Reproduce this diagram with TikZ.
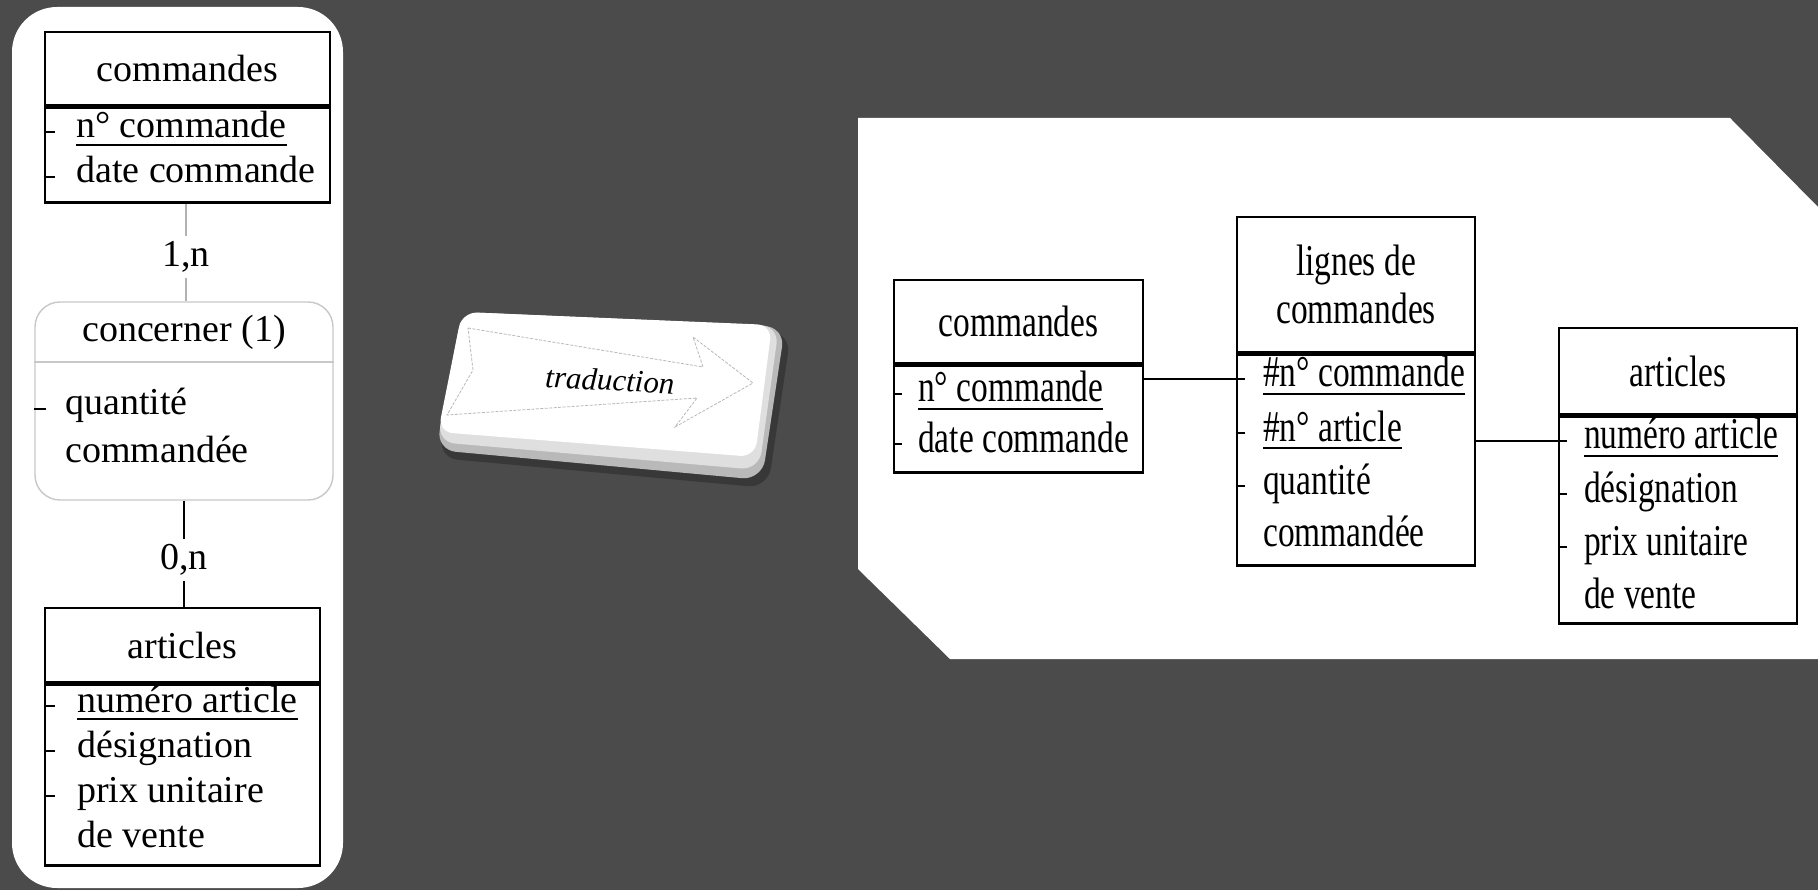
\documentclass[tikz,border=0pt]{standalone}
\usepackage{fontspec}
\setmainfont{Liberation Serif}
\newfontfamily\serifetroite[FakeStretch=0.76]{Liberation Serif}
\usetikzlibrary{positioning}
\definecolor{fond}{HTML}{4B4B4B}
\definecolor{grisclair}{HTML}{C8C8C8}
\newcommand{\policeg}{\fontsize{38}{45}\selectfont}
\newcommand{\policed}{\serifetroite\fontsize{44}{48}\selectfont}
\newcommand{\souligne}[1]{\leavevmode\setbox0\hbox{#1}\rlap{\copy0}\rule[-8pt]{\wd0}{2.2pt}}

\begin{document}
\begin{tikzpicture}[x=1pt,y=-1pt,
  boite/.style={draw,line width=2.6pt,inner sep=0pt,minimum width=#1},
  attrg/.style={anchor=base west,inner sep=0pt,font=\policeg},
  attrd/.style={anchor=base west,inner sep=0pt,font=\policed},
  tiret/.style={line width=2.4pt},
  lien/.style={line width=2.6pt}]
\fill[fond] (0,0) rectangle (1818,890);
\useasboundingbox (0,0) rectangle (1818,890);

\fill[white,rounded corners=45pt] (12,7) rectangle (343,888);

\node[boite=285,minimum height=73,font=\policeg] (cmdG) at (187.5,68.5) {commandes};
\node[boite=285,minimum height=95,anchor=north] (cmdGc) at (cmdG.south) {};
\node[attrg] (cmdG1) at (76,138) {\souligne{n° commande}};
\node[attrg] (cmdG2) at (76,183) {date commande};
\foreach \a in {cmdG1,cmdG2} \draw[tiret] (cmdGc.west |- \a.base) ++(0,-6) -- ++(11,0);

\node[draw=grisclair,line width=1.4pt,rounded corners=25pt,minimum width=298,minimum height=198] (conc) at (184,401) {};
\draw[grisclair,line width=1.4pt] (conc.west |- 0,362) -- (conc.east |- 0,362);
\node[font=\policeg] (concT) at (184,332) {concerner (1)};
\node[attrg] (conc1) at (65,415) {quantité};
\node[attrg] (conc2) at (65,462) {commandée};
\draw[tiret] (conc.west |- conc1.base) ++(0,-6) -- ++(12,0);

\node[font=\policeg,inner sep=5pt] (card1) at (186,257) {1,n};
\draw[gray!60,line width=1.2pt] (cmdGc.south -| card1) -- (card1) -- (card1 |- conc.north);

\node[boite=275,minimum height=74,font=\policeg] (artG) at (182.5,645) {articles};
\node[boite=275,minimum height=181,anchor=north] (artGc) at (artG.south) {};
\node[attrg] (artG1) at (77,712) {\souligne{numéro article}};
\node[attrg] (artG2) at (77,757) {désignation};
\node[attrg] (artG3) at (77,802) {prix unitaire};
\node[attrg] (artG4) at (77,847) {de vente};
\foreach \a in {artG1,artG2,artG3} \draw[tiret] (artGc.west |- \a.base) ++(0,-6) -- ++(11,0);

\node[font=\policeg,inner sep=5pt] (card2) at (184,560) {0,n};
\draw[lien] (conc.south -| card2) -- (card2) -- (card2 |- artG.north);

% bouton de traduction
\fill[black,opacity=.25,rounded corners=20pt] (466,318) -- (791,333) -- (768,488) -- (438,458) -- cycle;
\fill[gray!55,rounded corners=20pt] (462,312) -- (785,327) -- (762,480) -- (436,450) -- cycle;
\fill[gray!25,rounded corners=18pt] (462,312) -- (779,326) -- (759,470) -- (437,442) -- cycle;
\fill[white,rounded corners=15pt] (462,312) -- (772,325) -- (755,457) -- (438,432) -- cycle;
\draw[gray!55,line width=.8pt,dash pattern=on 3pt off 1.5pt] (468,328) -- (703,367) -- (693,337) -- (753,383) -- (675,427) -- (697,398) -- (447,415) -- (473,370) -- cycle;
\node[rotate=-3,font=\itshape\fontsize{31}{36}\selectfont] (trad) at (610,380) {traduction};

\fill[white] (858,118) -- (1730,118) -- (1818,207) -- (1818,659) -- (950,659) -- (858,569) -- cycle;

\node[boite=249,minimum height=83,font=\policed] (cmdD) at (1018.5,321.5) {commandes};
\node[boite=249,minimum height=107,anchor=north] (cmdDc) at (cmdD.south) {};
\node[attrd] (cmdD1) at (918,402) {\souligne{n° commande}};
\node[attrd] (cmdD2) at (918,452) {date commande};
\foreach \a in {cmdD1,cmdD2} \draw[tiret] (cmdDc.west |- \a.base) ++(0,-8) -- ++(9,0);

\node[boite=238,minimum height=135,font=\policed,align=center] (lig) at (1356,284.5) {lignes de\\commandes};
\node[boite=238,minimum height=211,anchor=north] (ligc) at (lig.south) {};
\node[attrd] (lig1) at (1263,387) {\souligne{\#n° commande}};
\node[attrd] (lig2) at (1263,441) {\souligne{\#n° article}};
\node[attrd] (lig3) at (1263,494) {quantité};
\node[attrd] (lig4) at (1263,546) {commandée};
\foreach \a in {lig2,lig3} \draw[tiret] (ligc.west |- \a.base) ++(0,-8) -- ++(9,0);

\node[boite=238,minimum height=86,font=\policed] (artD) at (1678,371) {articles};
\node[boite=238,minimum height=207,anchor=north] (artDc) at (artD.south) {};
\node[attrd] (artD1) at (1584,449) {\souligne{numéro article}};
\node[attrd] (artD2) at (1584,502) {désignation};
\node[attrd] (artD3) at (1584,555) {prix unitaire};
\node[attrd] (artD4) at (1584,608) {de vente};
\foreach \a in {artD2,artD3} \draw[tiret] (artDc.west |- \a.base) ++(0,-8) -- ++(9,0);

\path (ligc.west |- lig1.base) ++(9,-8) coordinate (l1);
\path (artDc.west |- artD1.base) ++(9,-8) coordinate (a1);
\draw[lien] (cmdDc.east |- l1) -- (l1);
\draw[lien] (ligc.east |- a1) -- (a1);
\end{tikzpicture}
\end{document}
